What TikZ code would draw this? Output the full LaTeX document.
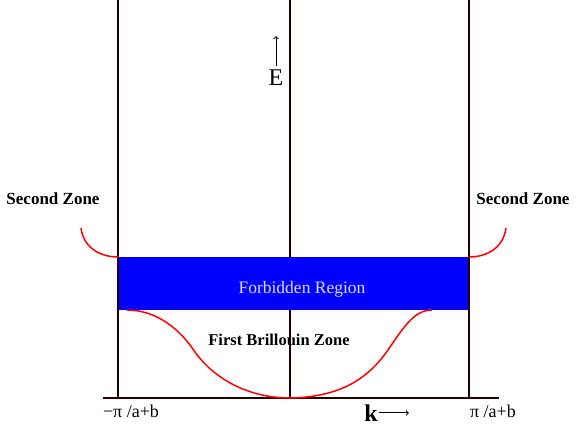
\documentclass[tikz,border=0pt]{standalone}
\usepackage{fontspec}
\setmainfont{Liberation Serif}
\usetikzlibrary{positioning}

\begin{document}
\begin{tikzpicture}[x=1pt,y=-1pt,node distance=14pt,
   zone/.style={font=\fontsize{17}{20}\selectfont\bfseries},
   edgelabel/.style={font=\fontsize{18}{20}\selectfont},
   band/.style={draw=red,line width=1.5pt},
   wall/.style={draw=black!85!red,line width=1.2pt}]
   \useasboundingbox (0,0) rectangle (576,427);

   % forbidden gap
   \node[fill=blue, inner sep=0pt, minimum width=351pt, minimum height=53pt,
         anchor=north west] (gap) at (118,257) {};
   \node[font=\fontsize{17.5}{20}\selectfont, text={rgb,255:red,220;green,220;blue,255}]
        (gaptext) at (302,289) {Forbidden Region};

   % zone boundaries and k axis
   \coordinate (lt) at (118,0);   \coordinate (lb) at (118,398);
   \coordinate (ct) at (290,0);   \coordinate (cb) at (290,398);
   \coordinate (rt) at (469,0);   \coordinate (rb) at (469,398);
   \coordinate (ax1) at (103,398); \coordinate (ax2) at (499,398);
   \draw[wall] (lt) -- (lb);
   \draw[wall] (ct) -- (ct |- gap.north);
   \draw[wall] (ct |- gap.south) -- (cb);
   \draw[wall] (rt) -- (rb);
   \draw[wall] (ax1) -- (ax2);

   % energy bands
   \path[band]
    (127,310) .. controls (150,310) and (175,322) .. (195,352)
              .. controls (215,380) and (250,398) .. (cb)
              .. controls (335,397) and (365,383) .. (388,350)
              .. controls (405,325) and (415,310) .. (432,310);
   \path[band] (81,228) .. controls (84,250) and (103,257) .. (gap.north west);
   \path[band] (506,228) .. controls (503,250) and (484,257) .. (gap.north east);

   % labels
   \node[zone] (sz1) at (53,199)  {Second Zone};
   \node[zone] (sz2) at (523,199) {Second Zone};
   \node[zone, font=\fontsize{16.5}{20}\selectfont\bfseries] (fbz) at (279,340) {First Brillouin Zone};
   \node[edgelabel] (kl) at (131,411) {−π /a+b};
   \node[edgelabel] (kr) at (493,411) {π /a+b};

   \node[font=\fontsize{24}{26}\selectfont, inner sep=4pt, outer sep=0pt] (E) at (276,78) {E};
   \coordinate[above=30pt of E] (Etip);
   \draw[->, line width=1pt] (E) -- (Etip);
   \node[font=\fontsize{24}{26}\selectfont\bfseries, inner sep=1pt] (k) at (371,413) {k};
   \coordinate[right=30pt of k] (ktip);
   \draw[->, line width=1pt] (k) -- (ktip);
\end{tikzpicture}
\end{document}
